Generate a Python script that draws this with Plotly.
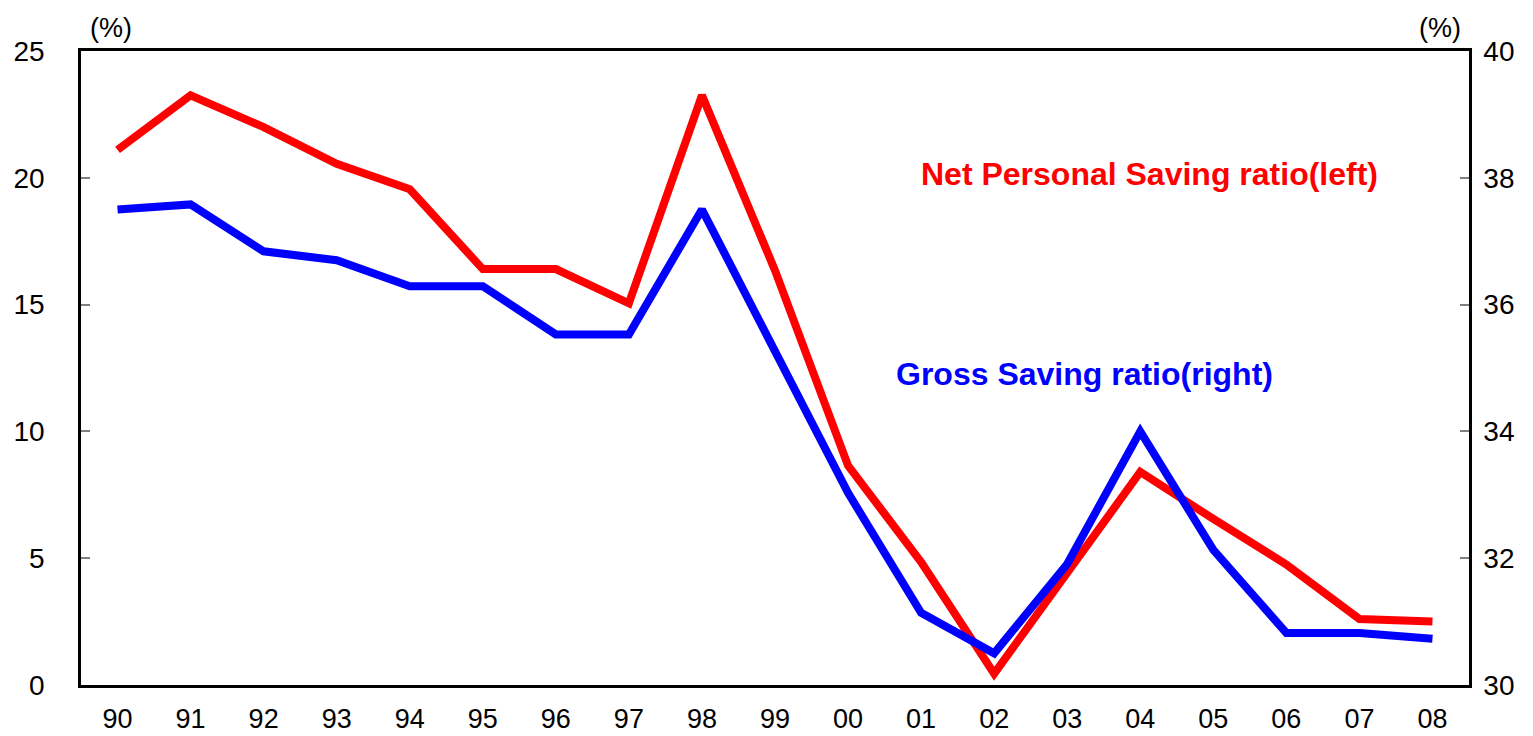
import plotly.graph_objects as go

years = ["90","91","92","93","94","95","96","97","98","99","00","01","02","03","04","05","06","07","08"]
net_personal = [21.1, 23.25, 22.0, 20.55, 19.55, 16.4, 16.4, 15.05, 23.25, 16.35, 8.65, 4.85, 0.45, 4.4, 8.4, 6.55, 4.75, 2.6, 2.5]
gross_saving = [37.5, 37.58, 36.84, 36.7, 36.29, 36.29, 35.53, 35.53, 37.5, 35.25, 33.03, 31.14, 30.5, 31.91, 34.0, 32.13, 30.82, 30.82, 30.73]

FONT = "Liberation Sans, Arial, sans-serif"
TICK = 28

fig = go.Figure()
fig.add_trace(go.Scatter(x=years, y=net_personal, mode="lines", name="Net Personal Saving ratio(left)",
                         line=dict(color="#ff0000", width=8), yaxis="y"))
fig.add_trace(go.Scatter(x=years, y=gross_saving, mode="lines", name="Gross Saving ratio(right)",
                         line=dict(color="#0000ff", width=8), yaxis="y2"))

fig.update_layout(
    width=1533, height=736,
    margin=dict(l=81, r=64, t=51, b=51, autoexpand=False),
    paper_bgcolor="white", plot_bgcolor="white",
    showlegend=False,
    font=dict(family=FONT, size=TICK, color="black"),
    xaxis=dict(type="category", range=[-0.5, 18.5], showline=True, linecolor="black", linewidth=2.5,
               mirror=True, showgrid=False, zeroline=False, ticks="", ticklabelstandoff=8,
               automargin=False, tickfont=dict(size=27)),
    yaxis=dict(range=[0, 25], dtick=5, showline=True, linecolor="black", linewidth=2.5,
               showgrid=False, zeroline=False, ticks="inside", ticklen=9, tickcolor="#808080",
               tickwidth=1.5, ticklabelstandoff=28, automargin=False, tickfont=dict(size=TICK)),
    yaxis2=dict(range=[30, 40], dtick=2, overlaying="y", side="right", showline=True,
                linecolor="black", linewidth=2.5, showgrid=False, zeroline=False,
                ticks="inside", ticklen=9, tickcolor="#808080", tickwidth=1.5,
                ticklabelstandoff=6, automargin=False, tickfont=dict(size=TICK)),
    annotations=[
        dict(text="(%)", xref="paper", yref="paper", x=0.0216, y=1.0, yshift=6,
             xanchor="center", yanchor="bottom", showarrow=False, font=dict(size=27)),
        dict(text="(%)", xref="paper", yref="paper", x=0.979, y=1.0, yshift=6,
             xanchor="center", yanchor="bottom", showarrow=False, font=dict(size=27)),
        dict(text="<b>Net Personal Saving ratio(left)</b>", xref="paper", yref="paper",
             x=0.7695, y=0.806, xanchor="center", yanchor="middle", showarrow=False,
             font=dict(size=32, color="#ff0000")),
        dict(text="<b>Gross Saving ratio(right)</b>", xref="paper", yref="paper",
             x=0.7233, y=0.49, xanchor="center", yanchor="middle", showarrow=False,
             font=dict(size=32, color="#0000ff")),
    ],
)

fig.write_html("out.html", config={"displayModeBar": False},
               post_script="document.body.style.margin='0';document.body.style.overflow='hidden';")
